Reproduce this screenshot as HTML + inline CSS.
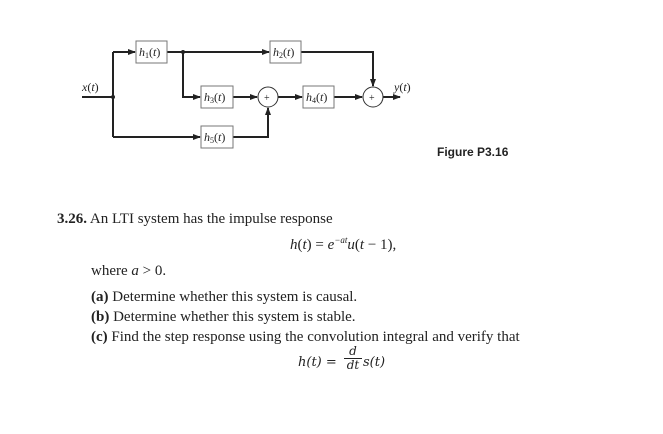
<!DOCTYPE html>
<html><head><style>
body{margin:0;background:#fff;width:663px;height:434px;overflow:hidden;position:relative;font-family:"Liberation Serif",serif;color:#222}
.t{position:absolute;white-space:nowrap;font-size:15px}
</style></head><body>
<svg width="663" height="434" style="position:absolute;left:0;top:0" font-family="Liberation Serif" font-style="italic" font-size="12">
<defs><marker id="a" markerWidth="8" markerHeight="6" refX="7" refY="3" orient="auto" markerUnits="userSpaceOnUse"><path d="M0,0L8,3L0,6z" fill="#222"/></marker></defs>
<g stroke="#222" stroke-width="2" fill="none">
<path d="M82 97H113M113 52V137"/>
<path d="M113 52H135" marker-end="url(#a)"/>
<path d="M167 52H269" marker-end="url(#a)"/>
<path d="M183 52V97H200" marker-end="url(#a)"/>
<path d="M113 137H200" marker-end="url(#a)"/>
<path d="M301 52H373V86" marker-end="url(#a)"/>
<path d="M233 97H257" marker-end="url(#a)"/>
<path d="M233 137H268V108" marker-end="url(#a)"/>
<path d="M278 97H302" marker-end="url(#a)"/>
<path d="M334 97H362" marker-end="url(#a)"/>
<path d="M383 97H400" marker-end="url(#a)"/>
</g>
<circle cx="113" cy="97" r="2" fill="#222"/><circle cx="183" cy="52" r="2" fill="#222"/>
<g stroke="#777" stroke-width="1" fill="#fff">
<rect x="136" y="41" width="31" height="22"/><rect x="270" y="41" width="31" height="22"/>
<rect x="201" y="86" width="32" height="22"/><rect x="303" y="86" width="31" height="22"/>
<rect x="201" y="126" width="32" height="22"/>
</g>
<g stroke="#333" stroke-width="1" fill="#fff"><circle cx="268" cy="97" r="10"/><circle cx="373" cy="97" r="10"/></g>
<g fill="#222">
<text x="139" y="56">h<tspan font-size="8" dy="2" font-style="normal">1</tspan><tspan dy="-2" font-style="normal">(</tspan>t<tspan font-style="normal">)</tspan></text>
<text x="273" y="56">h<tspan font-size="8" dy="2" font-style="normal">2</tspan><tspan dy="-2" font-style="normal">(</tspan>t<tspan font-style="normal">)</tspan></text>
<text x="204" y="101">h<tspan font-size="8" dy="2" font-style="normal">3</tspan><tspan dy="-2" font-style="normal">(</tspan>t<tspan font-style="normal">)</tspan></text>
<text x="306" y="101">h<tspan font-size="8" dy="2" font-style="normal">4</tspan><tspan dy="-2" font-style="normal">(</tspan>t<tspan font-style="normal">)</tspan></text>
<text x="204" y="141">h<tspan font-size="8" dy="2" font-style="normal">5</tspan><tspan dy="-2" font-style="normal">(</tspan>t<tspan font-style="normal">)</tspan></text>
<text x="82" y="91">x<tspan font-style="normal">(</tspan>t<tspan font-style="normal">)</tspan></text>
<text x="394" y="91">y<tspan font-style="normal">(</tspan>t<tspan font-style="normal">)</tspan></text>
<text x="264" y="101" font-style="normal" font-size="10">+</text><text x="369" y="101" font-style="normal" font-size="10">+</text>
</g>
</svg>
<div class="t" style="left:437px;top:145px;font-family:'Liberation Sans',sans-serif;font-weight:bold;font-size:12px">Figure P3.16</div>
<div class="t" style="left:57px;top:211px"><b>3.26.</b> An LTI system has the impulse response</div>
<div class="t" style="left:290px;top:235px"><i>h</i>(<i>t</i>) = <i>e</i><sup style="font-size:9px"><i>−at</i></sup><i>u</i>(<i>t</i> − 1),</div>
<div class="t" style="left:91px;top:263px">where <i>a</i> &gt; 0.</div>
<div class="t" style="left:91px;top:289px"><b>(a)</b> Determine whether this system is causal.</div>
<div class="t" style="left:91px;top:309px"><b>(b)</b> Determine whether this system is stable.</div>
<div class="t" style="left:91px;top:329px"><b>(c)</b> Find the step response using the convolution integral and verify that</div>
<div class="t" style="left:298px;top:355px;font-family:'DejaVu Serif',serif;font-size:13px;font-style:italic">h(t) <span style="font-style:normal">=</span></div>
<div class="t" style="left:344px;top:345px;font-family:'DejaVu Serif',serif;font-style:italic;font-size:12px;text-align:center;width:18px;line-height:13px">d<br><span style="display:block;border-top:1px solid #222">dt</span></div>
<div class="t" style="left:363px;top:355px;font-family:'DejaVu Serif',serif;font-style:italic;font-size:13px">s(t)</div>
</body></html>
